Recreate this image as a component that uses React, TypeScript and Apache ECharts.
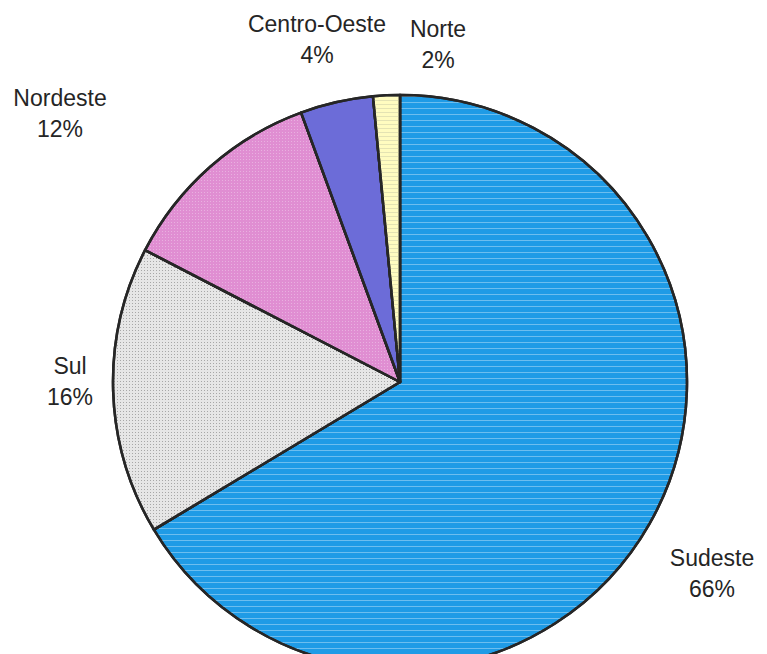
import React, { useEffect, useRef } from "react";
import * as echarts from "echarts";

const regions = ["Sudeste", "Sul", "Nordeste", "Centro-Oeste", "Norte"];
const shares = [66.4, 16.2, 11.8, 4.1, 1.5];
const colors = ["#1f9be6", "#e6e6e6", "#e08ed2", "#6c6cd8", "#fffcc0"];
const labelPos: [number, number][] = [
  [712, 573],
  [70, 381],
  [60, 113],
  [317, 39],
  [438, 44],
];

export default function App() {
  const ref = useRef<HTMLDivElement>(null);
  useEffect(() => {
    if (!ref.current) return;
    const chart = echarts.init(ref.current, undefined, { renderer: "svg" });
    const decals: any[] = [
      { symbol: "rect", symbolSize: 1, dashArrayX: [1, 0], dashArrayY: [1, 5], color: "rgba(255,255,255,0.35)" },
      { symbol: "rect", symbolSize: 1, dashArrayX: [1, 2], dashArrayY: [1, 2], color: "rgba(90,90,90,0.45)" },
      { symbol: "rect", symbolSize: 1, dashArrayX: [1, 2], dashArrayY: [1, 2], color: "rgba(255,255,255,0.3)" },
      { symbol: "rect", symbolSize: 1, dashArrayX: [1, 0], dashArrayY: [1, 0], color: "rgba(0,0,0,0)" },
      { symbol: "rect", symbolSize: 1, dashArrayX: [1, 0], dashArrayY: [1, 3], color: "rgba(210,210,170,0.6)" },
    ];
    chart.setOption({
      animation: false,
      backgroundColor: "#ffffff",
      series: [
        {
          type: "pie",
          center: [400, 382],
          radius: 287,
          startAngle: 90,
          clockwise: true,
          percentPrecision: 0,
          data: regions.map((name, i) => ({
            name,
            value: shares[i],
            itemStyle: { color: colors[i], decal: decals[i] },
          })),
          itemStyle: { borderColor: "#262626", borderWidth: 2.5 },
          label: {
            show: true,
            formatter: "{b}\n{d}%",
            fontFamily: "Liberation Sans, Arial, sans-serif",
            fontSize: 23,
            lineHeight: 31,
            color: "#252525",
            align: "center",
            overflow: "none",
          },
          labelLine: { show: false },
          labelLayout: (params: any) => {
            const p = labelPos[params.dataIndex];
            return { x: p[0], y: p[1], align: "center", verticalAlign: "middle" };
          },
          emphasis: { disabled: true },
        },
      ],
    });
    return () => chart.dispose();
  }, []);
  return (
    <div
      ref={ref}
      style={{ position: "absolute", left: 0, top: 0, width: 767, height: 654 }}
    />
  );
}
